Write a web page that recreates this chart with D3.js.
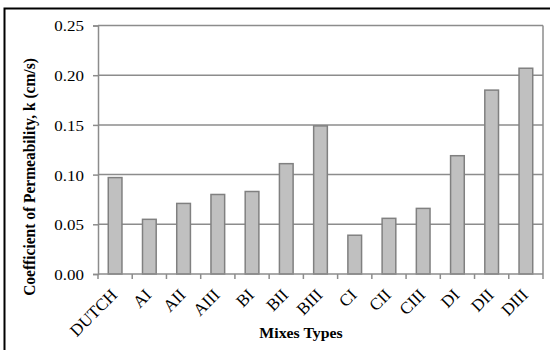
<!DOCTYPE html>
<html>
<head>
<meta charset="utf-8">
<script src="https://cdn.jsdelivr.net/npm/d3@7"></script>
<style>
  html, body { margin: 0; padding: 0; background: #fff; }
  svg { display: block; }
  text { font-family: "Liberation Serif", "Times New Roman", serif; fill: #000; }
</style>
</head>
<body>
<svg id="chart" width="550" height="350"></svg>
<script>
const categories = ["DUTCH", "AI", "AII", "AIII", "BI", "BII", "BIII", "CI", "CII", "CIII", "DI", "DII", "DIII"];
const permeability = [0.097, 0.055, 0.071, 0.080, 0.083, 0.111, 0.149, 0.039, 0.056, 0.066, 0.119, 0.185, 0.207];
const yTicks = [0.00, 0.05, 0.10, 0.15, 0.20, 0.25];
const xTitle = "Mixes Types";
const yTitle = "Coefficient of Permeability, k (cm/s)";

const svg = d3.select("#chart");
const stretch = 1.13;
const plot = { left: 98, right: 543, top: 25.5, bottom: 274 };
const gridColor = "#8c8c8c";

// outer border
svg.append("rect")
  .attr("x", 4.5).attr("y", 8.5)
  .attr("width", 600).attr("height", 400)
  .attr("fill", "none").attr("stroke", "#000").attr("stroke-width", 2);

const x = d3.scaleBand().domain(categories).range([plot.left, plot.right]).paddingInner(0.6).paddingOuter(0.3);
const xEdge = d3.scaleBand().domain(categories).range([plot.left, plot.right]);
const y = d3.scaleLinear().domain([0, 0.25]).range([plot.bottom, plot.top]);

// gridlines
svg.append("g").selectAll("line").data(yTicks.filter(t => t > 0)).join("line")
  .attr("x1", plot.left).attr("x2", plot.right)
  .attr("y1", d => y(d)).attr("y2", d => y(d))
  .attr("stroke", gridColor).attr("stroke-width", 1.5);

// right border of plot area
svg.append("line")
  .attr("x1", plot.right).attr("x2", plot.right)
  .attr("y1", plot.top).attr("y2", plot.bottom)
  .attr("stroke", gridColor).attr("stroke-width", 1.5);

// bars
svg.append("g").selectAll("rect").data(categories).join("rect")
  .attr("x", d => x(d))
  .attr("width", x.bandwidth())
  .attr("y", (d, i) => y(permeability[i]))
  .attr("height", (d, i) => y(0) - y(permeability[i]))
  .attr("fill", "#c0c0c0")
  .attr("stroke", "#808080")
  .attr("stroke-width", 1.5);

// y axis
const yAxis = svg.append("g").attr("transform", `translate(${plot.left},0)`)
  .call(d3.axisLeft(y).tickValues(yTicks).tickFormat(d3.format(".2f")).tickSize(5).tickPadding(9));
yAxis.select(".domain").attr("stroke", gridColor).attr("stroke-width", 1.5);
yAxis.selectAll(".tick line").attr("stroke", gridColor).attr("stroke-width", 1.5);
yAxis.selectAll(".tick text")
  .style("font-family", "'Liberation Serif', serif").style("font-size", "15px")
  .attr("fill", "#000")
  .attr("dy", "0.36em")
  .attr("transform", function() {
    const xx = -14;
    return `translate(${xx},0) scale(${stretch},1) translate(${-xx},0)`;
  });

// x axis
const xAxisG = svg.append("g").attr("transform", `translate(0,${plot.bottom})`);
xAxisG.append("line")
  .attr("x1", plot.left).attr("x2", plot.right).attr("y1", 0).attr("y2", 0)
  .attr("stroke", gridColor).attr("stroke-width", 1.5);
const edges = categories.map(c => xEdge(c)).concat([plot.right]);
xAxisG.selectAll("line.tk").data(edges).join("line").attr("class", "tk")
  .attr("x1", d => d).attr("x2", d => d).attr("y1", 0).attr("y2", 5)
  .attr("stroke", gridColor).attr("stroke-width", 1.5);

xAxisG.selectAll("text.lbl").data(categories).join("text").attr("class", "lbl")
  .attr("text-anchor", "end")
  .style("font-size", "17px")
  .attr("transform", d => `translate(${x(d) + x.bandwidth() / 2 + 3},${22}) rotate(-45)`)
  .text(d => d);

// axis titles
svg.append("text")
  .attr("text-anchor", "middle")
  .style("font-size", "14px").style("font-weight", "bold")
  .attr("transform", `translate(301,338) scale(${stretch},1)`)
  .text(xTitle);

svg.append("text")
  .attr("text-anchor", "middle")
  .style("font-size", "15.5px").style("font-weight", "bold")
  .attr("transform", `translate(35,177) scale(${stretch},1) rotate(-90)`)
  .text(yTitle);
</script>
</body>
</html>
